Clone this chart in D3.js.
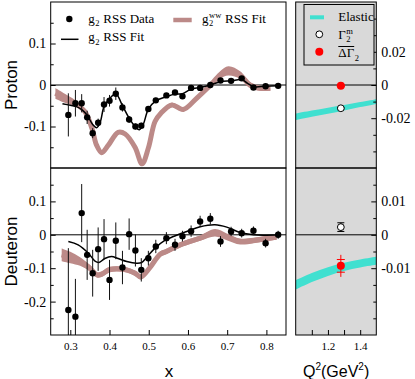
<!DOCTYPE html>
<html>
<head>
<meta charset="utf-8">
<script src="https://cdn.jsdelivr.net/npm/d3@7"></script>
<style>
body { margin: 0; background: #fff; }
svg text { font-family: "Liberation Serif", "Times New Roman", serif; fill: #000; white-space: pre; }
svg text.sans { font-family: "Liberation Sans", Arial, sans-serif; }
</style>
</head>
<body>
<div id="chart"></div>
<script>
// x bins (same for proton and deuteron)
const xBins = [0.295, 0.313, 0.329, 0.343, 0.357, 0.371, 0.386, 0.400, 0.416, 0.433, 0.450, 0.466, 0.481,
    0.499, 0.518, 0.545, 0.567, 0.586, 0.608, 0.631, 0.657, 0.683, 0.710, 0.737, 0.767, 0.798, 0.830];

// g2 RSS data
const protonG2 = [-0.072, -0.044, -0.044, -0.078, -0.116, -0.091, -0.047, -0.038, -0.021, -0.054, -0.083, -0.100, -0.098,
    -0.058, -0.037, -0.025, -0.018, -0.027, -0.007, -0.007, 0.000, 0.011, 0.010, 0.016, -0.006, -0.003, -0.002];
const protonErr = [0.052, 0.032, 0.022, 0.016, 0.012, 0.010, 0.018, 0.014, 0.015, 0.010, 0.008, 0.007, 0.007,
    0.007, 0.006, 0.005, 0.005, 0.005, 0.004, 0.004, 0.004, 0.004, 0.004, 0.004, 0.004, 0.004, 0.004];
const deuteronG2 = [-0.225, -0.245, 0.065, -0.060, -0.115, -0.043, -0.013, -0.135, -0.018, -0.098, 0.002, -0.047, -0.105,
    -0.070, -0.035, -0.010, -0.030, -0.004, 0.011, 0.040, 0.048, -0.020, 0.010, 0.005, 0.012, -0.025, 0.000];
const deuteronErr = [0.185, 0.113, 0.087, 0.075, 0.070, 0.065, 0.060, 0.060, 0.055, 0.050, 0.047, 0.048, 0.035,
    0.022, 0.020, 0.018, 0.018, 0.016, 0.017, 0.017, 0.017, 0.016, 0.014, 0.013, 0.013, 0.013, 0.012];

// g2 RSS fit
const protonFitX = [0.280, 0.300, 0.316, 0.330, 0.343, 0.357, 0.367, 0.376, 0.386, 0.400, 0.416, 0.433, 0.450, 0.465, 0.476,
    0.486, 0.499, 0.518, 0.545, 0.567, 0.586, 0.608, 0.631, 0.657, 0.683, 0.710, 0.737, 0.752, 0.767, 0.798, 0.830];
const protonFitY = [-0.045, -0.049, -0.052, -0.060, -0.073, -0.095, -0.103, -0.090, -0.052, -0.033, -0.021, -0.050, -0.080, -0.100, -0.108,
    -0.095, -0.058, -0.038, -0.028, -0.022, -0.021, -0.010, -0.006, 0.000, 0.008, 0.010, 0.013, 0.004, -0.004, -0.003, -0.002];
const deuteronFitX = [0.295, 0.320, 0.346, 0.363, 0.373, 0.388, 0.405, 0.422, 0.444, 0.469, 0.482, 0.495, 0.516, 0.541,
    0.563, 0.597, 0.631, 0.669, 0.699, 0.733, 0.767, 0.800, 0.835];
const deuteronFitY = [-0.020, -0.030, -0.055, -0.079, -0.083, -0.071, -0.065, -0.071, -0.080, -0.085, -0.083, -0.067, -0.040, -0.017,
    -0.005, 0.010, 0.024, 0.030, 0.023, 0.007, 0.000, -0.001, 0.000];

// g2ww RSS fit (band centre and half width)
const protonWwX = [0.262, 0.286, 0.312, 0.337, 0.355, 0.367, 0.380, 0.397, 0.422, 0.440, 0.465, 0.483, 0.499, 0.516,
    0.531, 0.559, 0.588, 0.622, 0.656, 0.682, 0.703, 0.733, 0.758, 0.784, 0.810];
const protonWwY = [-0.020, -0.032, -0.044, -0.064, -0.104, -0.145, -0.163, -0.145, -0.114, -0.118, -0.150, -0.190, -0.152, -0.088,
    -0.068, -0.048, -0.059, -0.032, -0.002, 0.024, 0.034, 0.024, 0.000, -0.008, -0.008];
const protonWwErr = [0.013, 0.011, 0.008, 0.005, 0.005, 0.005, 0.005, 0.005, 0.005, 0.005, 0.005, 0.005, 0.005, 0.005,
    0.005, 0.005, 0.005, 0.005, 0.006, 0.009, 0.011, 0.009, 0.007, 0.006, 0.006];
const deuteronWwX = [0.278, 0.300, 0.325, 0.350, 0.368, 0.380, 0.401, 0.443, 0.465, 0.480, 0.503, 0.529, 0.545, 0.580,
    0.631, 0.669, 0.699, 0.733, 0.767, 0.801, 0.826];
const deuteronWwY = [-0.060, -0.068, -0.080, -0.100, -0.120, -0.118, -0.104, -0.105, -0.115, -0.126, -0.098, -0.058, -0.050, -0.030,
    -0.010, 0.006, -0.006, -0.020, -0.017, -0.011, -0.007];
const deuteronWwErr = [0.019, 0.017, 0.013, 0.010, 0.008, 0.008, 0.008, 0.008, 0.008, 0.008, 0.008, 0.008, 0.008, 0.008,
    0.008, 0.011, 0.010, 0.009, 0.008, 0.008, 0.008];

// right panels: elastic contribution vs Q2
const elasticQ2 = [1.0, 1.1, 1.2, 1.3, 1.4, 1.5];
const protonElastic = [-0.0192, -0.0173, -0.0155, -0.0137, -0.0118, -0.0100];
const protonElasticErr = [0.0020, 0.0019, 0.0018, 0.0016, 0.0015, 0.0014];
const deuteronElastic = [-0.0150, -0.0128, -0.0110, -0.0096, -0.0086, -0.0078];
const deuteronElasticErr = [0.0014, 0.00135, 0.0013, 0.00125, 0.0012, 0.0012];

// measured integrals at Q2 = 1.28
const pointQ2 = 1.28;
const gammaM = { proton: -0.0140, deuteron: 0.0023 };
const gammaMErr = { proton: 0.0004, deuteron: 0.0013 };
const deltaGamma = { proton: -0.0005, deuteron: -0.0093 };
const deltaGammaStat = { proton: 0.0003, deuteron: 0.0019 };
const deltaGammaTot = { proton: 0.0005, deuteron: 0.0033 };

// ticks
const protonTicks = [-0.15, -0.1, -0.05, 0, 0.05, 0.1, 0.15];
const protonLabels = [-0.1, 0, 0.1];
const deuteronTicks = [-0.25, -0.2, -0.15, -0.1, -0.05, 0, 0.05, 0.1, 0.15];
const deuteronLabels = [-0.2, -0.1, 0, 0.1];
const protonRTicks = [-0.04, -0.03, -0.02, -0.01, 0, 0.01, 0.02, 0.03, 0.04];
const protonRLabels = [-0.02, 0, 0.02];
const deuteronRTicks = [-0.025, -0.02, -0.015, -0.01, -0.005, 0, 0.005, 0.01, 0.015];
const deuteronRLabels = [-0.01, 0, 0.01];
const xTicks = [0.3, 0.4, 0.5, 0.6, 0.7, 0.8];
const q2Ticks = [1.1, 1.2, 1.3, 1.4];
const q2Labels = [1.2, 1.4];

const WW_COLOR = '#bc8a88';
const EL_COLOR = '#40e0d0';
const SERIF = '"Liberation Serif", "Times New Roman", serif';

const svg = d3.select('#chart').append('svg')
    .attr('width', 415)
    .attr('height', 379);

const xLeft = 50.7, xRight = 286, qLeft = 295.7, qRight = 376.3;
const yTop = 2, yMid = 168, yBottom = 335;

const x = d3.scaleLinear().domain([0.25, 0.85]).range([xLeft, xRight]);
const q = d3.scaleLinear().domain([1.0, 1.5]).range([qLeft, qRight]);
const yP = d3.scaleLinear().domain([-0.2, 0.2]).range([yMid, yTop]);
const yD = d3.scaleLinear().domain([-0.3, 0.2]).range([yBottom, yMid]);
const yPR = d3.scaleLinear().domain([-0.05, 0.05]).range([yMid, yTop]);
const yDR = d3.scaleLinear().domain([-0.03, 0.02]).range([yBottom, yMid]);

const fmt = d => String(Math.round(d * 1000) / 1000);
const inList = (list, d) => list.some(v => Math.abs(v - d) < 1e-9);

// right panel background
svg.append('rect').attr('x', qLeft).attr('y', yTop).attr('width', qRight - qLeft).attr('height', yBottom - yTop)
    .attr('fill', '#d9d9d9');

const defs = svg.append('defs');
function clip(id, x0, y0, x1, y1) {
    defs.append('clipPath').attr('id', id).append('rect')
        .attr('x', x0).attr('y', y0).attr('width', x1 - x0).attr('height', y1 - y0);
    return svg.append('g').attr('clip-path', `url(#${id})`);
}

function drawBand(g, xs, ys, errs, xs_, ys_, color, strokeW) {
    const data = xs.map((v, i) => ({ x: v, y: ys[i], e: errs[i] }));
    g.append('path').datum(data)
        .attr('d', d3.area().x(d => xs_(d.x)).y0(d => ys_(d.y - d.e)).y1(d => ys_(d.y + d.e)).curve(d3.curveCatmullRom))
        .attr('fill', color);
    if (strokeW) {
        g.append('path').datum(data)
            .attr('d', d3.line().x(d => xs_(d.x)).y(d => ys_(d.y)).curve(d3.curveCatmullRom))
            .attr('fill', 'none').attr('stroke', color).attr('stroke-width', strokeW);
    }
}

function drawLine(g, xs, ys, ys_) {
    g.append('path').datum(xs.map((v, i) => [v, ys[i]]))
        .attr('d', d3.line().x(d => x(d[0])).y(d => ys_(d[1])).curve(d3.curveCatmullRom))
        .attr('fill', 'none').attr('stroke', '#000').attr('stroke-width', 1.5);
}

function drawPoints(g, ys, errs, ys_) {
    const data = xBins.map((v, i) => ({ x: v, y: ys[i], e: errs[i] }));
    g.selectAll(null).data(data).enter().append('line')
        .attr('x1', d => x(d.x)).attr('x2', d => x(d.x))
        .attr('y1', d => ys_(d.y - d.e)).attr('y2', d => ys_(d.y + d.e))
        .attr('stroke', '#111').attr('stroke-width', 1);
    g.selectAll(null).data(data).enter().append('circle')
        .attr('cx', d => x(d.x)).attr('cy', d => ys_(d.y)).attr('r', 3.2)
        .attr('fill', '#000');
}

function zeroLine(g, x0, x1, y) {
    g.append('line').attr('x1', x0).attr('x2', x1).attr('y1', y).attr('y2', y)
        .attr('stroke', '#000').attr('stroke-width', 1);
}

// proton left
const gP = clip('clipP', xLeft, yTop, xRight, yMid);
zeroLine(gP, xLeft, xRight, yP(0));
drawBand(gP, protonWwX, protonWwY, protonWwErr, x, yP, WW_COLOR, 5);
drawLine(gP, protonFitX, protonFitY, yP);
drawPoints(gP, protonG2, protonErr, yP);

// deuteron left
const gD = clip('clipD', xLeft, yMid, xRight, yBottom);
zeroLine(gD, xLeft, xRight, yD(0));
drawBand(gD, deuteronWwX, deuteronWwY, deuteronWwErr, x, yD, WW_COLOR, 5);
drawLine(gD, deuteronFitX, deuteronFitY, yD);
drawPoints(gD, deuteronG2, deuteronErr, yD);

// right panels
function drawRight(g, ys_, el, elErr, key) {
    zeroLine(g, qLeft, qRight, ys_(0));
    drawBand(g, elasticQ2, el, elErr, q, ys_, EL_COLOR, 0);
    const cx = q(pointQ2);
    // Gamma2 measured (open circle)
    const gm = gammaM[key], gmE = gammaMErr[key];
    g.append('line').attr('x1', cx).attr('x2', cx).attr('y1', ys_(gm - gmE)).attr('y2', ys_(gm + gmE)).attr('stroke', '#000');
    [gm - gmE, gm + gmE].forEach(v => g.append('line').attr('x1', cx - 3.5).attr('x2', cx + 3.5)
        .attr('y1', ys_(v)).attr('y2', ys_(v)).attr('stroke', '#000'));
    g.append('circle').attr('cx', cx).attr('cy', ys_(gm)).attr('r', 3.4)
        .attr('fill', '#fff').attr('stroke', '#000').attr('stroke-width', 1);
    // Delta Gamma2 (red)
    const dg = deltaGamma[key], dgS = deltaGammaStat[key], dgT = deltaGammaTot[key];
    g.append('line').attr('x1', cx).attr('x2', cx).attr('y1', ys_(dg - dgT)).attr('y2', ys_(dg + dgT)).attr('stroke', '#f00');
    [dg - dgS, dg + dgS].forEach(v => g.append('line').attr('x1', cx - 4).attr('x2', cx + 4)
        .attr('y1', ys_(v)).attr('y2', ys_(v)).attr('stroke', '#f00'));
    g.append('circle').attr('cx', cx).attr('cy', ys_(dg)).attr('r', 4).attr('fill', '#f00');
}
drawRight(clip('clipPR', qLeft, yTop, qRight, yMid), yPR, protonElastic, protonElasticErr, 'proton');
drawRight(clip('clipDR', qLeft, yMid, qRight, yBottom), yDR, deuteronElastic, deuteronElasticErr, 'deuteron');

// axes
function yAxis(scale, ticks, labels, xPos, side) {
    const axis = (side === 'left' ? d3.axisLeft(scale) : d3.axisRight(scale))
        .tickValues(ticks)
        .tickSizeInner(-5).tickSizeOuter(0)
        .tickPadding(side === 'left' ? 4.5 : 5)
        .tickFormat(d => inList(labels, d) ? fmt(d) : '');
    const g = svg.append('g').attr('transform', `translate(${xPos},0)`).call(axis);
    g.select('.domain').remove();
    g.selectAll('.tick line').attr('x2', d => (inList(labels, d) ? 5 : 3) * (side === 'left' ? 1 : -1))
        .attr('stroke', '#000');
    g.selectAll('.tick text').style('font-family', SERIF).style('font-size', '14px');
}
yAxis(yP, protonTicks, protonLabels, xLeft, 'left');
yAxis(yD, deuteronTicks, deuteronLabels, xLeft, 'left');
yAxis(yPR, protonRTicks, protonRLabels, qRight, 'right');
yAxis(yDR, deuteronRTicks, deuteronRLabels, qRight, 'right');

function xAxis(scale, ticks, labels) {
    const g = svg.append('g').attr('transform', `translate(0,${yBottom})`)
        .call(d3.axisBottom(scale).tickValues(ticks).tickSizeInner(-5).tickSizeOuter(0).tickPadding(7)
            .tickFormat(d => inList(labels, d) ? fmt(d) : ''));
    g.select('.domain').remove();
    g.selectAll('.tick line').attr('stroke', '#000');
    g.selectAll('.tick text').style('font-family', SERIF).style('font-size', '11px');
}
xAxis(x, xTicks, xTicks);
xAxis(q, q2Ticks, q2Labels);

// frames
[[xLeft, yTop, xRight, yMid], [xLeft, yMid, xRight, yBottom], [qLeft, yTop, qRight, yMid], [qLeft, yMid, qRight, yBottom]]
    .forEach(([x0, y0, x1, y1]) => svg.append('rect')
        .attr('x', x0).attr('y', y0).attr('width', x1 - x0).attr('height', y1 - y0)
        .attr('fill', 'none').attr('stroke', '#000').attr('stroke-width', 1));

// axis titles
svg.append('text').attr('class', 'sans').attr('transform', `translate(16.5,${yP(0)}) rotate(-90)`)
    .attr('text-anchor', 'middle').style('font-size', '17px').text('Proton');
svg.append('text').attr('class', 'sans').attr('transform', `translate(16.5,${yD(-0.05)}) rotate(-90)`)
    .attr('text-anchor', 'middle').style('font-size', '17px').text('Deuteron');
svg.append('text').attr('class', 'sans').attr('x', 169).attr('y', 376.5)
    .attr('text-anchor', 'middle').style('font-size', '17px').text('x');
const q2t = svg.append('text').attr('class', 'sans').attr('x', 303).attr('y', 376.5).style('font-size', '16px');
q2t.append('tspan').text('Q');
q2t.append('tspan').attr('dy', -7).style('font-size', '10px').text('2');
q2t.append('tspan').attr('dy', 7).text('(GeV');
q2t.append('tspan').attr('dy', -7).style('font-size', '10px').text('2');
q2t.append('tspan').attr('dy', 7).text(')');

// legend text with stacked sub/superscript
function subText(xPos, yPos, base, sub, sup, rest) {
    const t = svg.append('text').attr('x', xPos).attr('y', yPos).style('font-size', '13px');
    t.append('tspan').text(base);
    const bw = t.node().getComputedTextLength();
    let w = 0;
    if (sup) {
        const s = svg.append('text').attr('x', xPos + bw + 0.5).attr('y', yPos - 5).style('font-size', '8.5px').text(sup);
        w = s.node().getComputedTextLength();
    }
    const sb = svg.append('text').attr('x', xPos + bw + 0.5).attr('y', yPos + 3.5).style('font-size', '8.5px').text(sub);
    w = Math.max(w, sb.node().getComputedTextLength());
    if (rest) {
        svg.append('text').attr('x', xPos + bw + w + 1).attr('y', yPos).style('font-size', '13px').text(rest);
    }
    return bw;
}

// left legend
svg.append('circle').attr('cx', 69.3).attr('cy', 19).attr('r', 3.2).attr('fill', '#000');
subText(88.3, 22.5, 'g', '2', null, ' RSS Data');
svg.append('line').attr('x1', 61).attr('x2', 78.5).attr('y1', 39.3).attr('y2', 39.3)
    .attr('stroke', '#000').attr('stroke-width', 1.5);
subText(88.3, 41, 'g', '2', null, ' RSS Fit');
svg.append('line').attr('x1', 173.3).attr('x2', 191.7).attr('y1', 20).attr('y2', 20)
    .attr('stroke', WW_COLOR).attr('stroke-width', 4.5);
subText(202, 22.5, 'g', '2', 'ww', ' RSS Fit');

// right legend
svg.append('rect').attr('x', 304).attr('y', 4.5).attr('width', 70).attr('height', 60.5)
    .attr('fill', '#d9d9d9').attr('stroke', '#000').attr('stroke-width', 1);
svg.append('line').attr('x1', 310).attr('x2', 324).attr('y1', 17.3).attr('y2', 17.3)
    .attr('stroke', EL_COLOR).attr('stroke-width', 4);
svg.append('text').attr('x', 338.3).attr('y', 21).style('font-size', '13px').text('Elastic');
svg.append('circle').attr('cx', 319.3).attr('cy', 34.3).attr('r', 3.4)
    .attr('fill', '#fff').attr('stroke', '#000').attr('stroke-width', 1);
subText(338.3, 38.5, 'Γ', '2', 'm', null);
svg.append('circle').attr('cx', 319.3).attr('cy', 51.7).attr('r', 4).attr('fill', '#f00');
const dgw = subText(338.3, 57, 'ΔΓ', '2', null, null);
svg.append('line').attr('x1', 338.3).attr('x2', 338.3 + dgw).attr('y1', 46.5).attr('y2', 46.5)
    .attr('stroke', '#000').attr('stroke-width', 1);
</script>
</body>
</html>
